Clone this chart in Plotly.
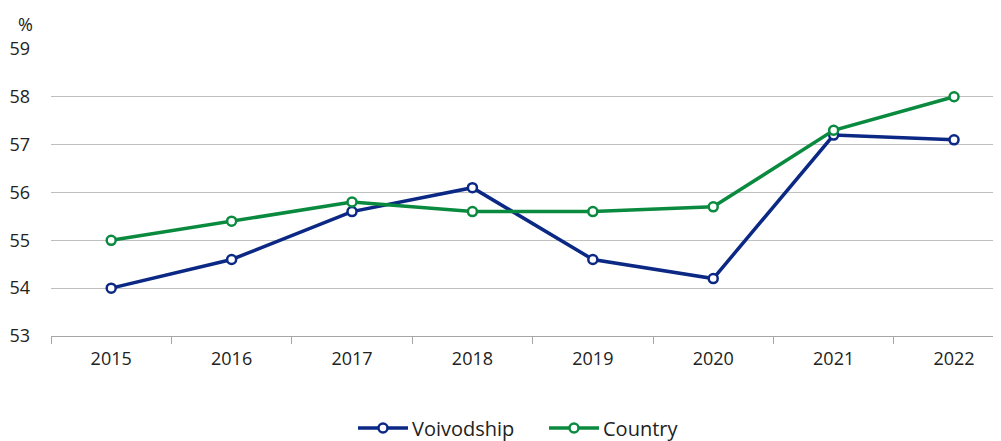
import plotly.graph_objects as go

years = ["2015", "2016", "2017", "2018", "2019", "2020", "2021", "2022"]
voivodship = [54.0, 54.6, 55.6, 56.1, 54.6, 54.2, 57.2, 57.1]
country = [55.0, 55.4, 55.8, 55.6, 55.6, 55.7, 57.3, 58.0]
y_ticks = [53, 54, 55, 56, 57, 58, 59]
series_names = ["Voivodship", "Country"]

NAVY = "#0b2884"
GREEN = "#0a8a3f"
FONT = "Open Sans"
TXT = "#222222"

fig = go.Figure()
for name, vals, col in [(series_names[0], voivodship, NAVY), (series_names[1], country, GREEN)]:
    fig.add_trace(go.Scatter(
        x=years, y=vals, name=name, mode="lines+markers", showlegend=False,
        line=dict(color=col, width=3.5),
        marker=dict(symbol="circle", size=9, color="white",
                    line=dict(color=col, width=2.5)),
    ))

# bottom legend drawn as paper-space shapes + text (keeps it at the very bottom edge)
L = 43.0      # left margin px
PW = 950.0    # plot width px
PH = 288.0    # plot height px
def px(xp):   # page x -> paper x (body margin 8)
    return (xp - 8 - L) / PW
leg_y = -(428 - 8 - 328) / PH

shapes = []
annots = []
for name, col, x0, xc, x1, xt in [(series_names[0], NAVY, 358, 383, 408, 411),
                                   (series_names[1], GREEN, 549, 574, 599, 602)]:
    shapes.append(dict(type="line", xref="paper", yref="paper",
                       x0=px(x0), x1=px(x1), y0=leg_y, y1=leg_y,
                       line=dict(color=col, width=3.5)))
    shapes.append(dict(type="circle", xref="paper", yref="paper",
                       xsizemode="pixel", ysizemode="pixel",
                       xanchor=px(xc), yanchor=leg_y, x0=-4.5, x1=4.5, y0=-4.5, y1=4.5,
                       fillcolor="white", line=dict(color=col, width=2.5)))
    annots.append(dict(text=name, xref="paper", yref="paper", x=px(xt), y=leg_y,
                       xanchor="left", yanchor="middle", showarrow=False, borderpad=0,
                       font=dict(size=20, color=TXT)))

annots.append(dict(text="%", xref="paper", yref="paper", x=-0.027, y=1.035,
                   xanchor="center", yanchor="bottom", showarrow=False,
                   font=dict(size=18, color=TXT)))

# page has an 8px body margin: figure sized/offset to compensate
fig.update_layout(
    width=993, height=433,
    margin=dict(l=43, r=0, t=40, b=105),
    plot_bgcolor="white", paper_bgcolor="white",
    font=dict(family=FONT, size=18, color=TXT),
    showlegend=False,
    xaxis=dict(
        type="category", range=[-0.5, 7.39], automargin=False,
        showgrid=False, showline=True, linecolor="#a6a6a6", linewidth=1,
        ticks="outside", ticklen=7, tickcolor="#a6a6a6", tickson="boundaries",
        tickfont=dict(size=18, color=TXT), ticklabelstandoff=6,
    ),
    yaxis=dict(
        range=[53, 59.02], tickvals=y_ticks, showgrid=True, gridcolor="#c0c0c0",
        gridwidth=1, zeroline=False, showline=False, ticks="", automargin=False,
        tickfont=dict(size=18, color=TXT), ticklabelstandoff=20,
    ),
    shapes=shapes,
    annotations=annots,
)

fig.write_html("out.html")
